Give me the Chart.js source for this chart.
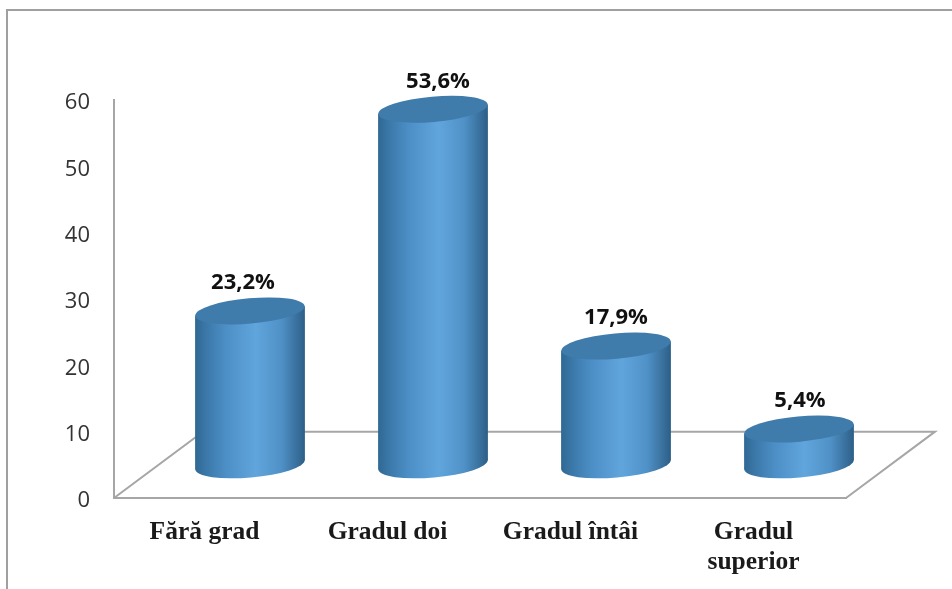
<!DOCTYPE html>
<html>
<head>
<meta charset="utf-8">
<style>
  html, body { margin: 0; padding: 0; background: #fff; overflow: hidden; }
  #wrap { position: relative; width: 952px; height: 589px; }
  #frame { position: absolute; left: 6px; top: 9px; right: 0; bottom: 0; border-left: 2px solid #a0a0a0; border-top: 2px solid #a0a0a0; }
  canvas { position: absolute; left: 0; top: 0; }
</style>
<script src="https://cdn.jsdelivr.net/npm/chart.js@4"></script>
</head>
<body>
<div id="wrap">
  <div id="frame"></div>
  <canvas id="chart" width="952" height="589"></canvas>
</div>
<script>
const categories = ['Fără grad', 'Gradul doi', 'Gradul întâi', ['Gradul', 'superior']];
const percentages = [23.2, 53.6, 17.9, 5.4];
const yTicks = [0, 10, 20, 30, 40, 50, 60];

const floorLine = '#a6a6a6';
const floorDepthX = 89;
const floorDepthValue = 10;
const tilt = -5 * Math.PI / 180;
// the labels in the reference sit a bit off centre
const labelShift = [-7, 5, 0, 1];

function ellipsePath(ctx, cx, cy, rx, ry) {
    ctx.beginPath();
    ctx.ellipse(cx, cy, rx, ry, tilt, 0, Math.PI * 2);
}

function drawCylinder(ctx, cx, topY, baseY, halfW) {
    const ry = halfW * 0.231;
    const t = Math.atan(-(ry / halfW) * Math.tan(tilt));
    const edgeY = halfW * Math.cos(t) * Math.sin(tilt) + ry * Math.sin(t) * Math.cos(tilt);

    const grad = ctx.createLinearGradient(cx - halfW, 0, cx + halfW, 0);
    grad.addColorStop(0, '#2f6892');
    grad.addColorStop(0.1, '#3b78a9');
    grad.addColorStop(0.28, '#4c8fc6');
    grad.addColorStop(0.55, '#60a5dc');
    grad.addColorStop(0.78, '#5092c8');
    grad.addColorStop(0.92, '#3a729f');
    grad.addColorStop(1, '#2c5f87');

    ctx.fillStyle = grad;
    ellipsePath(ctx, cx, baseY, halfW, ry);
    ctx.fill();
    ctx.beginPath();
    ctx.moveTo(cx - halfW, topY - edgeY);
    ctx.lineTo(cx + halfW, topY + edgeY);
    ctx.lineTo(cx + halfW, baseY + edgeY);
    ctx.lineTo(cx - halfW, baseY - edgeY);
    ctx.closePath();
    ctx.fill();

    ctx.fillStyle = '#3f7bab';
    ellipsePath(ctx, cx, topY, halfW, ry);
    ctx.fill();
}

const cylinders = {
    id: 'cylinders',
    beforeDatasetsDraw(chart) {
        // floor of the 3D box
        const { ctx, chartArea: a, scales: { y } } = chart;
        const dy = y.getPixelForValue(0) - y.getPixelForValue(floorDepthValue);
        ctx.save();
        ctx.strokeStyle = floorLine;
        ctx.lineWidth = 2;
        ctx.beginPath();
        ctx.moveTo(a.left, a.bottom);
        ctx.lineTo(a.left + floorDepthX, a.bottom - dy);
        ctx.lineTo(a.right + floorDepthX, a.bottom - dy);
        ctx.lineTo(a.right, a.bottom);
        ctx.stroke();
        ctx.restore();
    },
    beforeDatasetDraw(chart, args) {
        const { ctx, scales: { y } } = chart;
        const dy = (y.getPixelForValue(0) - y.getPixelForValue(floorDepthValue)) / 2;
        const dx = floorDepthX / 2;
        ctx.save();
        args.meta.data.forEach((bar, i) => {
            const cx = bar.x + dx;
            const topY = bar.y - dy;
            drawCylinder(ctx, cx, topY, bar.base - dy, bar.width / 2);
            ctx.fillStyle = '#111111';
            ctx.font = 'bold 22px "Open Sans"';
            ctx.textAlign = 'center';
            ctx.textBaseline = 'middle';
            const txt = percentages[i].toFixed(1).replace('.', ',') + '%';
            ctx.fillText(txt, cx + labelShift[i], topY - 28);
        });
        ctx.restore();
        return false;
    }
};

new Chart(document.getElementById('chart'), {
    type: 'bar',
    data: {
        labels: categories,
        datasets: [{
            data: percentages,
            backgroundColor: '#4c8fc6',
            categoryPercentage: 1,
            barPercentage: 0.6
        }]
    },
    options: {
        responsive: false,
        animation: false,
        layout: { padding: { left: 0, right: 106, top: 100, bottom: 0 } },
        plugins: { legend: { display: false }, tooltip: { enabled: false } },
        scales: {
            x: {
                grid: { display: false },
                border: { color: floorLine, width: 2 },
                afterFit: s => { s.height = 91; },
                ticks: {
                    color: '#1a1a1a',
                    padding: 11,
                    labelOffset: -1,
                    maxRotation: 0,
                    autoSkip: false,
                    font: { family: '"Liberation Serif"', size: 25.5, weight: 'bold', lineHeight: 1.18 }
                }
            },
            y: {
                min: 0,
                max: 60,
                afterBuildTicks: s => { s.ticks = yTicks.map(v => ({ value: v })); },
                afterFit: s => { s.width = 114; },
                grid: { display: false },
                border: { color: floorLine, width: 2 },
                ticks: {
                    color: '#333333',
                    padding: 16,
                    labelOffset: 3,
                    font: { family: '"Open Sans"', size: 22 }
                }
            }
        }
    },
    plugins: [cylinders]
});
</script>
</body>
</html>
